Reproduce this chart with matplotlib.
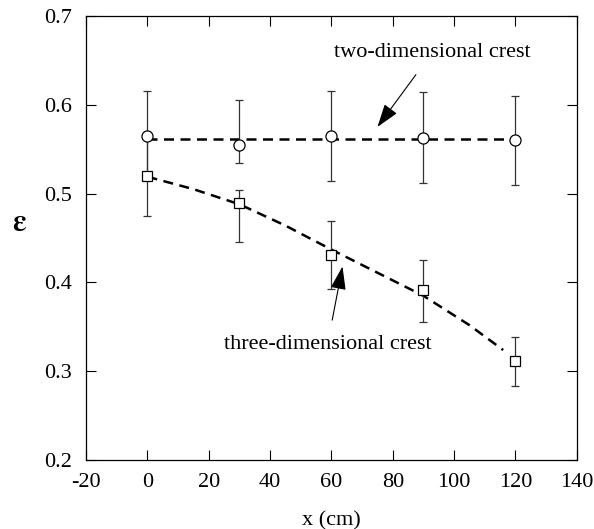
import matplotlib
matplotlib.use("Agg")
import matplotlib.pyplot as plt
import numpy as np

plt.rcParams["font.family"] = ["Liberation Serif", "DejaVu Serif"]
plt.rcParams["mathtext.fontset"] = "stix"
plt.rcParams["axes.unicode_minus"] = False

# measured points (x in cm)
x_pts = [0, 30, 60, 90, 120]

# two-dimensional crest (circles)
eps_2d = [0.565, 0.555, 0.565, 0.563, 0.560]
err_2d_lo = [0.050, 0.021, 0.051, 0.051, 0.050]
err_2d_hi = [0.051, 0.050, 0.051, 0.051, 0.050]

# three-dimensional crest (squares)
eps_3d = [0.520, 0.489, 0.431, 0.391, 0.312]
err_3d_lo = [0.045, 0.043, 0.038, 0.035, 0.029]
err_3d_hi = [0.045, 0.015, 0.038, 0.034, 0.027]

# dashed trend lines
fit2d_x = [0, 120]
fit2d_y = [0.562, 0.562]
fit3d_x = [0, 15, 30, 45, 60, 75, 90, 105, 116]
fit3d_y = [0.519, 0.505, 0.488, 0.464, 0.437, 0.411, 0.385, 0.352, 0.324]

fig = plt.figure(figsize=(5.94, 5.29), dpi=100)
ax = fig.add_axes([0.145, 0.130, 0.826, 0.840])

ax.plot(fit2d_x, fit2d_y, color="black", lw=1.8, ls=(0, (4, 2.6)))
ax.plot(fit3d_x, fit3d_y, color="black", lw=1.8, ls=(0, (4, 2.6)))

ax.errorbar(x_pts, eps_2d, yerr=[err_2d_lo, err_2d_hi], fmt="o", ms=8,
            mfc="white", mec="black", mew=0.9, ecolor="#333333",
            elinewidth=0.9, capsize=3, capthick=0.9, zorder=3)
ax.errorbar(x_pts, eps_3d, yerr=[err_3d_lo, err_3d_hi], fmt="s", ms=7,
            mfc="white", mec="black", mew=0.9, ecolor="#333333",
            elinewidth=0.9, capsize=3, capthick=0.9, zorder=3)

ax.annotate("two-dimensional crest", xy=(75, 0.575), xytext=(92.9, 0.659),
            ha="center", va="center", fontsize=16,
            arrowprops=dict(arrowstyle="-|>,head_length=0.9,head_width=0.3",
                            color="black", lw=0.8, shrinkA=9, shrinkB=0))
ax.annotate("three-dimensional crest", xy=(63.6, 0.418), xytext=(58.7, 0.330),
            ha="center", va="center", fontsize=16,
            arrowprops=dict(arrowstyle="-|>,head_length=0.9,head_width=0.3",
                            color="black", lw=0.8, shrinkA=9, shrinkB=0))

ax.set_xlim(-20, 140)
ax.set_ylim(0.2, 0.7)
ax.set_xticks(np.arange(-20, 141, 20))
ax.set_yticks(np.arange(0.2, 0.71, 0.1))
ax.set_yticklabels([f"{v:.1f}" for v in np.arange(0.2, 0.71, 0.1)])
ax.tick_params(direction="in", length=7, width=0.8, top=True, right=True,
               labelsize=16)
ax.tick_params(axis="y", pad=10)
ax.tick_params(axis="x", pad=9)
for s in ax.spines.values():
    s.set_linewidth(0.9)

ax.set_xlabel("x (cm)", fontsize=16, labelpad=14)
ax.set_ylabel(r"$\mathbf{\varepsilon}$", fontsize=22, rotation=0, labelpad=18)

fig.savefig("out.png", dpi=100)
